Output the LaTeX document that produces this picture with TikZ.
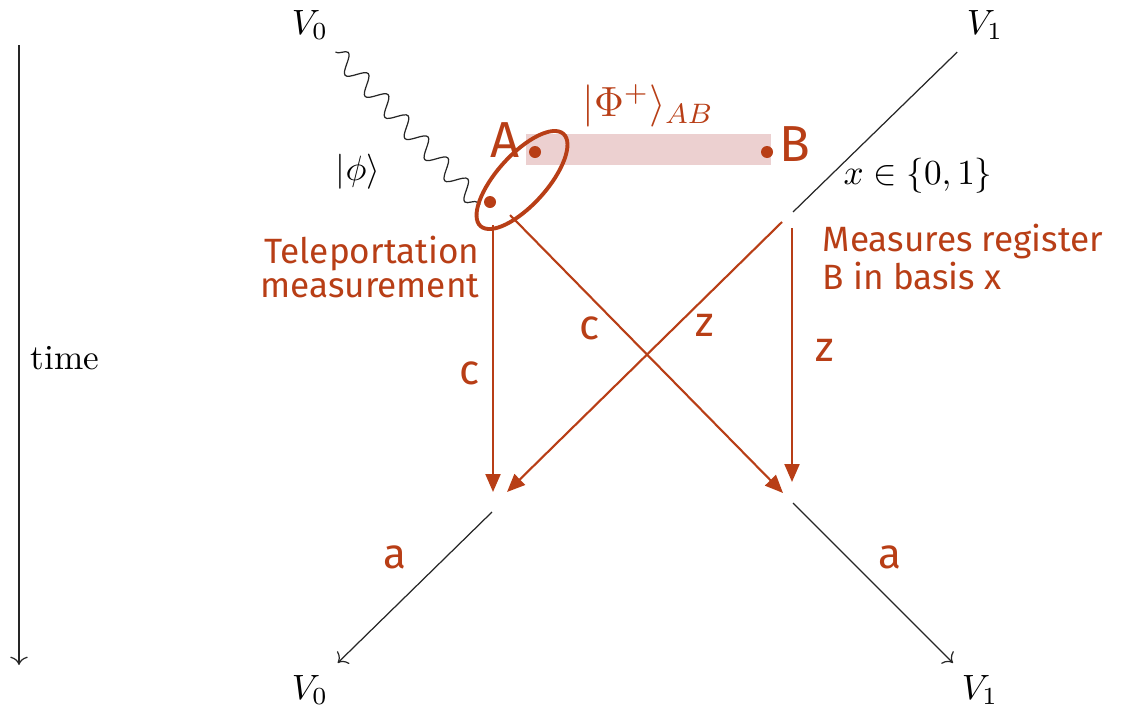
\documentclass[tikz,border=0pt]{standalone}
\usepackage{amsmath, amssymb}
\usepackage{fontspec}
\newfontfamily\handfont{Fira Sans}
\usetikzlibrary{arrows.meta, decorations.pathmorphing}
\definecolor{ink}{RGB}{184,62,22}
\definecolor{pairbar}{RGB}{236,208,208}

\begin{document}
\begin{tikzpicture}[>=To,
  note/.style={ink, inner sep=0pt, font=\handfont\fontsize{10}{9.5}\selectfont},
  letter/.style={ink, inner sep=0pt, font=\handfont\large},
  signal/.style={ink, line width=0.6pt, -{Triangle[length=1.8mm,width=1.5mm]}},
  world/.style={black!85, line width=0.35pt}]
  \useasboundingbox (0,0) rectangle (11.32,7.12);
  % time axis
  \coordinate (tstart) at (0.19,6.67);
  \coordinate (tend) at (0.19,0.47);
  \draw[world,->] (tstart) -- (tend);
  \node[anchor=west, inner sep=0pt] (time) at (0.30,3.54) {time};
  % verifiers
  \node (V0in) at (3.10,6.87) {$V_0$};
  \node (V1in) at (9.85,6.87) {$V_1$};
  \node (V0out) at (3.10,0.22) {$V_0$};
  \node (V1out) at (9.80,0.22) {$V_1$};
  \coordinate (qin) at (4.80,5.07);
  \coordinate (xin) at (7.93,5.00);
  \coordinate (aout0) at (4.92,2.00);
  \coordinate (aout1) at (7.93,2.09);
  \draw[world, decorate, decoration={snake, amplitude=0.9mm, segment length=2.9mm}] (V0in) -- (qin);
  \draw[world] (V1in) -- (xin);
  \draw[world,->] (aout0) -- (V0out);
  \draw[world,->] (aout1) -- (V1out);
  \node (phi) at (3.58,5.40) {$|\phi\rangle$};
  \node (basis) at (9.18,5.36) {$x\in\{0,1\}$};
  % EPR pair
  \fill[pairbar] (5.26,5.47) rectangle (7.71,5.78);
  \node[ink, font=\large] (epr) at (6.48,6.06) {$\lvert\Phi^+\rangle_{AB}$};
  \draw[ink, line width=1.1pt, rotate around={48:(5.22,5.32)}] (5.22,5.32) ellipse (0.62 and 0.25);
  \fill[ink] (5.35,5.60) circle (0.06);
  \fill[ink] (4.90,5.10) circle (0.06);
  \fill[ink] (7.67,5.60) circle (0.06);
  \node[letter, font=\handfont\Large] (A) at (5.05,5.72) {A};
  \node[letter, font=\handfont\Large] (B) at (7.95,5.68) {B};
  % messages
  \coordinate (c0) at (4.93,4.87);
  \coordinate (c1) at (5.10,4.97);
  \coordinate (z0) at (7.82,4.90);
  \coordinate (z1) at (7.92,4.84);
  \coordinate (r0) at (4.93,2.20);
  \coordinate (r0b) at (5.07,2.20);
  \coordinate (r1) at (7.83,2.19);
  \coordinate (r1b) at (7.92,2.30);
  \draw[signal] (c0) -- (r0);
  \draw[signal] (c1) -- (r1);
  \draw[signal] (z0) -- (r0b);
  \draw[signal] (z1) -- (r1b);
  \node[letter] (cl) at (4.70,3.39) {c};
  \node[letter] (cd) at (5.90,3.84) {c};
  \node[letter] (zd) at (7.05,3.87) {z};
  \node[letter] (zr) at (8.25,3.62) {z};
  \node[letter] (al) at (3.95,1.55) {a};
  \node[letter] (ar) at (8.90,1.55) {a};
  \node[note, anchor=east, align=right] (tele) at (4.80,4.45) {Teleportation\\measurement};
  \node[note, anchor=west, align=left] (meas) at (8.22,4.55) {Measures register\\B in basis x};
\end{tikzpicture}
\end{document}
